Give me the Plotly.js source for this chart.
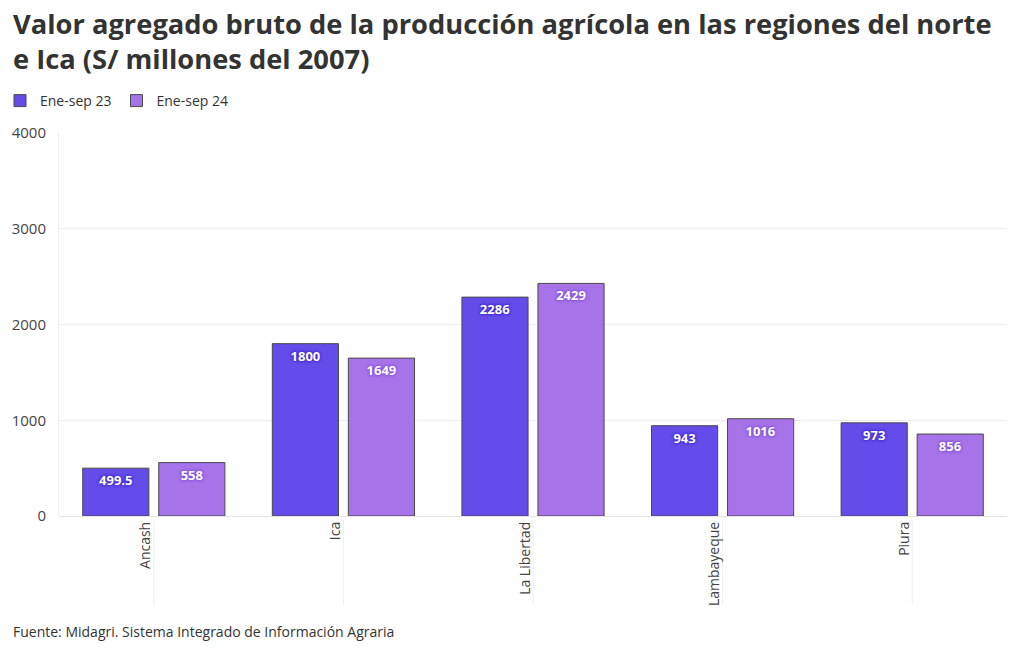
<!DOCTYPE html>
<html>
<head>
<meta charset="utf-8">
<script src="https://cdn.plot.ly/plotly-3.0.1.min.js"></script>
<style>html,body{margin:0;padding:0;background:#fff;}#chart{width:1020px;height:650px;}</style>
</head>
<body>
<div id="chart"></div>
<script>
const regiones = ["Ancash", "Ica", "La Libertad", "Lambayeque", "Piura"];
const serie23 = [499.5, 1800, 2286, 943, 973];
const serie24 = [558, 1649, 2429, 1016, 856];
const nombres = ["Ene-sep 23", "Ene-sep 24"];
const yTicks = [0, 1000, 2000, 3000, 4000];

const FONT = "'Open Sans', 'Noto Sans', sans-serif";

function labelText(arr){ return arr.map(v => String(v)); }

const traces = [
  {
    type: "bar", name: nombres[0], x: regiones, y: serie23,
    text: labelText(serie23), textposition: "inside", insidetextanchor: "end",
    textangle: 0, constraintext: "none",
    textfont: {family: FONT, size: 13, color: "#ffffff", weight: 700,
               shadow: "0 0 3px #3a22c8, 0 0 3px #3a22c8"},
    marker: {color: "#634ce9", line: {color: "#4a4a4a", width: 1}},
    hoverinfo: "skip"
  },
  {
    type: "bar", name: nombres[1], x: regiones, y: serie24,
    text: labelText(serie24), textposition: "inside", insidetextanchor: "end",
    textangle: 0, constraintext: "none",
    textfont: {family: FONT, size: 13, color: "#ffffff", weight: 700,
               shadow: "0 0 3px #7d45d8, 0 0 3px #7d45d8"},
    marker: {color: "#a673e8", line: {color: "#4a4a4a", width: 1}},
    hoverinfo: "skip"
  }
];

const catShapes = regiones.map(r => ({
  type: "line", xref: "x", yref: "paper", x0: r, x1: r, y0: -0.01, y1: -0.232,
  line: {color: "#eeeeee", width: 1}, layer: "below"
}));

const layout = {
  width: 1020, height: 650,
  margin: {l: 59, r: 13, t: 133, b: 134},
  paper_bgcolor: "#ffffff", plot_bgcolor: "#ffffff",
  font: {family: FONT, color: "#333333", size: 14},
  barmode: "group", bargap: 0.198, bargroupgap: 0.13,
  showlegend: true,
  legend: {orientation: "h", xref: "container", yref: "container",
           x: 0.0, xanchor: "left", y: 1 - 101/650, yanchor: "middle",
           font: {family: FONT, size: 14, color: "#333333"},
           itemwidth: 30, traceorder: "normal", bgcolor: "rgba(0,0,0,0)"},
  xaxis: {
    type: "category", tickangle: -90, ticks: "", showgrid: false,
    showline: false, zeroline: false,
    tickfont: {family: FONT, size: 14, color: "#444444"},
    ticklabelshift: -8, ticklabelstandoff: 2
  },
  yaxis: {
    range: [0, 4000], tickvals: yTicks, ticktext: yTicks.map(String),
    showgrid: true, gridcolor: "#ececec", gridwidth: 1,
    zeroline: true, zerolinecolor: "#e4e4e4", zerolinewidth: 1,
    showline: true, linecolor: "#eeeeee", linewidth: 1,
    ticks: "", ticklabelstandoff: 9,
    tickfont: {family: FONT, size: 15, color: "#444444"}
  },
  shapes: catShapes,
  annotations: [
    {xref: "paper", yref: "paper", x: -48/948, y: 1 + (133-3)/383, xanchor: "left", yanchor: "top",
     align: "left",
     text: "<b>Valor agregado bruto de la producción agrícola en las regiones del norte<br>e Ica (S/ millones del 2007)</b>",
     showarrow: false, font: {family: FONT, size: 27.3, color: "#333333"}},
    {xref: "paper", yref: "paper", x: -48/948, y: -(631-516)/383, xanchor: "left", yanchor: "middle",
     text: "Fuente: Midagri. Sistema Integrado de Información Agraria",
     showarrow: false, font: {family: FONT, size: 14, color: "#333333"}}
  ]
};

Plotly.newPlot("chart", traces, layout, {displayModeBar: false, staticPlot: true});
</script>
</body>
</html>
